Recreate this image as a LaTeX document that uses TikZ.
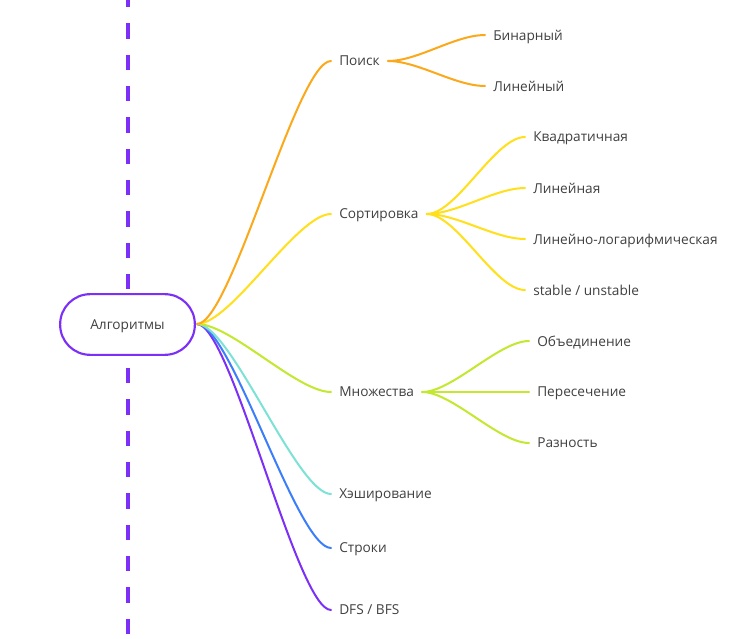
\documentclass[tikz,border=0pt]{standalone}
\usepackage{fontspec}
\setmainfont{Open Sans}
\usetikzlibrary{calc}
\begin{document}
\begin{tikzpicture}[x=0.75pt,y=-0.75pt,
  lbl/.style={inner xsep=6pt,inner ysep=2pt,text depth=0pt,text=txt,font=\fontsize{10.25}{12}\selectfont,anchor=west},
  br/.style={line width=1.5pt,line cap=round},
  rootbox/.style={draw=rootc,line width=1.6pt,fill=white,rounded corners=22.5pt,minimum width=101pt,minimum height=45.5pt,text depth=0pt,text=txt,font=\fontsize{10.25}{12}\selectfont}]
\definecolor{rootc}{HTML}{7B2FF7}
\definecolor{txt}{HTML}{404040}
\definecolor{corange}{HTML}{FBA91A}
\definecolor{cyellow}{HTML}{FFE01A}
\definecolor{cgreen}{HTML}{C2E830}
\definecolor{ccyan}{HTML}{7DE2D6}
\definecolor{cblue}{HTML}{3B7DFB}
\definecolor{cpurple}{HTML}{7B2FF7}
\useasboundingbox (0,0) rectangle (752,638);
\fill[white] (0,0) rectangle (752,638);
% dashed axis
\coordinate (axtop) at (127.5,0);
\coordinate (axbot) at (127.5,638);
\draw[cpurple,line width=3pt,dash pattern=on 11.5pt off 12pt,dash phase=6pt] (axtop) -- (axbot);
% root
\node[rootbox] (root) at (127.5,324.5) {Алгоритмы};
\coordinate (rs) at (197,324);
% first-level labels
\node[lbl] (poisk) at (331,61) {Поиск};
\node[lbl] (sort) at (331,214) {Сортировка};
\node[lbl] (mnoz) at (331,392) {Множества};
\node[lbl] (hash) at (331,494) {Хэширование};
\node[lbl] (str) at (331,548) {Строки};
\node[lbl] (dfs) at (331,610) {DFS / BFS};
% second-level
\node[lbl] (bin) at (485,35) {Бинарный};
\node[lbl] (lin) at (485,86) {Линейный};
\node[lbl] (kv) at (525,137) {Квадратичная};
\node[lbl] (lina) at (525,188) {Линейная};
\node[lbl] (linlog) at (525,239) {Линейно-логарифмическая};
\node[lbl] (stab) at (525,290) {stable / unstable};
\node[lbl] (obj) at (529,341) {Объединение};
\node[lbl] (per) at (529,392) {Пересечение};
\node[lbl] (raz) at (529,443) {Разность};
% root branches
\draw[br,cpurple] (rs) .. controls ($(rs)+(34,0)$) and ($(dfs.west)+(-34,0)$) .. (dfs.west);
\draw[br,cblue] (rs) .. controls ($(rs)+(34,0)$) and ($(str.west)+(-34,0)$) .. (str.west);
\draw[br,ccyan] (rs) .. controls ($(rs)+(34,0)$) and ($(hash.west)+(-34,0)$) .. (hash.west);
\draw[br,cgreen] (rs) .. controls ($(rs)+(34,0)$) and ($(mnoz.west)+(-34,0)$) .. (mnoz.west);
\draw[br,cyellow] (rs) .. controls ($(rs)+(34,0)$) and ($(sort.west)+(-34,0)$) .. (sort.west);
\draw[br,corange] (rs) .. controls ($(rs)+(34,0)$) and ($(poisk.west)+(-34,0)$) .. (poisk.west);
% sub branches
\foreach \p/\c in {bin/poisk,lin/poisk}{
  \draw[br,corange] (\c.east) .. controls ($(\c.east)+(30,0)$) and ($(\p.west)+(-30,0)$) .. (\p.west);}
\foreach \p in {kv,lina,linlog,stab}{
  \draw[br,cyellow] (sort.east) .. controls ($(sort.east)+(30,0)$) and ($(\p.west)+(-30,0)$) .. (\p.west);}
\foreach \p in {obj,per,raz}{
  \draw[br,cgreen] (mnoz.east) .. controls ($(mnoz.east)+(30,0)$) and ($(\p.west)+(-30,0)$) .. (\p.west);}
\end{tikzpicture}
\end{document}
